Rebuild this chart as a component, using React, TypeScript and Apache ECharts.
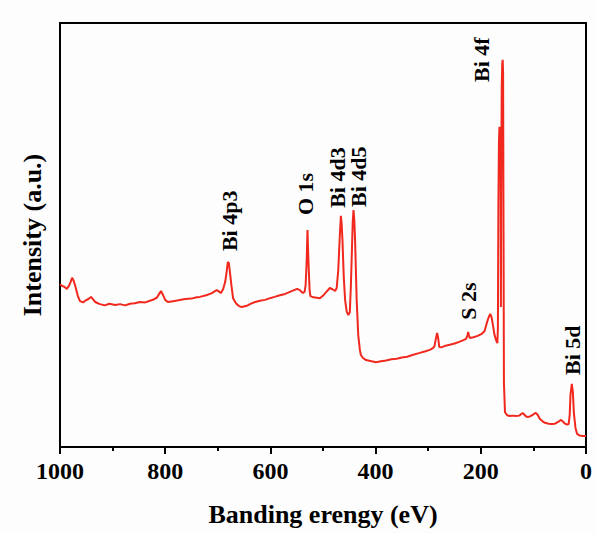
import { useEffect, useRef } from 'react';
import * as echarts from 'echarts';

// XPS survey spectrum: [binding energy (eV), intensity (a.u., 0-100 scale)]
const spectrum: [number, number][] = [
  [1000, 38.4], [996, 38.0], [992, 37.8], [987, 37.3], [983, 38.0], [980, 38.9], [977, 39.9],
  [974, 39.2], [971, 38.0], [966, 35.6], [962, 34.4], [956, 34.1], [951, 34.6], [946, 34.9],
  [941, 35.4], [937, 34.8], [933, 34.2], [928, 33.9], [924, 33.7], [915, 33.4], [906, 33.8],
  [895, 33.5], [886, 33.7], [876, 33.4], [867, 33.8], [858, 33.9], [848, 34.2], [838, 34.1],
  [829, 34.5], [822, 34.8], [816, 35.2], [812, 36.0], [808, 36.8], [804, 35.8], [800, 34.7],
  [795, 34.2], [785, 34.4], [775, 34.6], [762, 34.9], [750, 35.0], [740, 35.3], [734, 35.4],
  [722, 35.8], [711, 36.3], [706, 36.7], [702, 37.0], [698, 36.7], [694, 36.3], [690, 37.2],
  [686, 38.9], [683, 41.5], [681, 43.6], [679, 43.4], [677, 41.3], [674, 38.0], [671, 35.1],
  [667, 34.2], [664, 33.7], [659, 33.2], [654, 33.0], [645, 33.3], [637, 33.8], [629, 34.2],
  [620, 34.5], [610, 34.7], [601, 35.1], [592, 35.4], [582, 35.8], [572, 36.1], [563, 36.6],
  [555, 37.0], [549, 37.3], [544, 37.0], [540, 36.5], [538, 36.3], [535, 36.6], [533, 38.2],
  [531, 44.0], [529.5, 51.2], [528, 45.0], [527, 41.7], [525.5, 37.0], [524, 35.6], [518, 35.3],
  [512, 35.2], [506, 35.1], [499, 35.8], [492, 36.8], [487, 37.5], [482, 37.2], [477, 36.8],
  [474, 37.5], [471, 41.7], [468, 50.0], [466, 54.5], [464.5, 52.5], [463, 48.8], [460.5, 40.0],
  [458, 34.7], [455, 32.0], [452, 31.1], [449, 31.8], [447, 38.0], [445, 46.5], [443.5, 53.0],
  [442, 55.9], [440.5, 53.5], [439, 48.8], [436, 34.7], [433, 26.4], [430, 23.0], [428, 21.7],
  [424, 21.0], [418, 20.5], [410, 20.3], [399, 20.0], [390, 20.2], [380, 20.4], [370, 20.7],
  [360, 20.8], [350, 21.1], [340, 21.3], [330, 21.7], [316, 22.2], [305, 22.6], [297, 22.9],
  [291, 23.3], [288, 23.8], [286, 25.2], [283, 26.9], [281, 25.6], [279, 23.6], [275, 23.5],
  [269, 23.8], [259, 24.1], [250, 24.4], [241, 24.8], [233, 25.2], [228, 25.5], [225.5, 26.3],
  [224, 27.1], [222.5, 26.3], [221, 25.7], [214, 25.9], [206, 26.2], [198, 26.7], [193, 27.3],
  [188, 29.5], [185, 30.6], [182, 31.4], [179.5, 30.6], [177, 28.8], [174, 26.5], [171, 25.2],
  [168.5, 24.5], [167.5, 28.0], [166.5, 58.0], [165.5, 72.0], [164.5, 75.5], [163.5, 75.0],
  [162.4, 72.5], [161.8, 33.0], [161.2, 60.0], [160.2, 85.0], [159.2, 90.5], [158.4, 91.3],
  [157.6, 88.0], [157, 60.0], [156, 15.0], [154, 8.2], [150, 7.5], [145, 7.3], [140, 7.4],
  [133, 7.3], [127, 7.4], [123, 7.8], [120, 8.0], [117, 7.6], [114, 7.2], [110, 7.1],
  [106.5, 7.2], [102, 7.5], [98, 7.9], [95, 8.0], [92, 7.6], [87.5, 6.6], [82, 6.0], [78, 5.7],
  [71, 5.5], [64.6, 5.4], [59, 5.5], [53, 5.9], [47.5, 6.4], [44, 6.0], [40, 5.5], [36, 5.3],
  [33, 5.4], [31, 7.5], [29.5, 12.3], [27, 14.9], [25, 13.0], [23, 8.0], [20, 4.5], [17, 3.1],
  [12, 2.7], [6, 2.6], [0, 2.6],
];

// Peak annotations: text, energy of label centre, intensity at the label's lower end
const peakNames = ['Bi 4p3', 'O 1s', 'Bi 4d3', 'Bi 4d5', 'Bi 4f', 'S 2s', 'Bi 5d'];
const peakEnergies = [677, 534, 473, 431.6, 199.6, 223.4, 26.6];
const peakLabelBase = [46.2, 54.7, 56.4, 56.6, 86.1, 30.0, 17.0];

const xMin = 0;
const xMax = 1000;
const xInterval = 200;

export default function App() {
  const ref = useRef<HTMLDivElement>(null);
  useEffect(() => {
    const chart = echarts.init(ref.current!, null, { renderer: 'svg' });
    const font = '"Times New Roman", "Liberation Serif", serif';
    chart.setOption({
      animation: false,
      backgroundColor: '#fdfdfd',
      grid: {
        left: 60, right: 9, top: 23, bottom: 87,
        show: true, borderColor: '#000', borderWidth: 2, backgroundColor: 'transparent',
      },
      xAxis: {
        type: 'value', min: xMin, max: xMax, interval: xInterval, inverse: true,
        axisLine: { lineStyle: { color: '#000', width: 2 } },
        axisTick: { inside: false, length: 7, lineStyle: { width: 2, color: '#000' } },
        minorTick: { show: true, splitNumber: 2, length: 4, lineStyle: { width: 2, color: '#000' } },
        splitLine: { show: false },
        axisLabel: {
          color: '#000', fontFamily: font, fontWeight: 'bold', fontSize: 24, margin: 12,
          formatter: (v: number) => String(v),
        },
        name: 'Banding erengy (eV)', nameLocation: 'middle', nameGap: 54,
        nameTextStyle: { color: '#000', fontFamily: font, fontWeight: 'bold', fontSize: 26 },
      },
      yAxis: {
        type: 'value', min: 0, max: 100,
        axisLine: { show: true, lineStyle: { color: '#000', width: 2 } },
        axisTick: { show: false }, axisLabel: { show: false }, splitLine: { show: false },
        name: 'Intensity (a.u.)', nameLocation: 'middle', nameGap: 15,
        nameTextStyle: { color: '#000', fontFamily: font, fontWeight: 'bold', fontSize: 26 },
      },
      series: [{
        type: 'line', data: spectrum, showSymbol: false, symbol: 'none',
        lineStyle: { color: '#f0281e', width: 2 }, itemStyle: { color: '#f0281e' },
      }],
    });
    const graphic = peakNames.map((name, i) => {
      const p = chart.convertToPixel({ gridIndex: 0 } as any, [peakEnergies[i], peakLabelBase[i]]) as number[];
      return {
        type: 'text', x: p[0], y: p[1], rotation: Math.PI / 2,
        style: {
          text: name, fill: '#000', fontSize: 22, fontWeight: 'bold', fontFamily: font,
          align: 'left', verticalAlign: 'middle', textAlign: 'left', textVerticalAlign: 'middle',
        },
      };
    });
    chart.setOption({ graphic });
    return () => chart.dispose();
  }, []);
  return <div ref={ref} style={{ position: 'fixed', left: 0, top: 0, width: 595, height: 534 }} />;
}
